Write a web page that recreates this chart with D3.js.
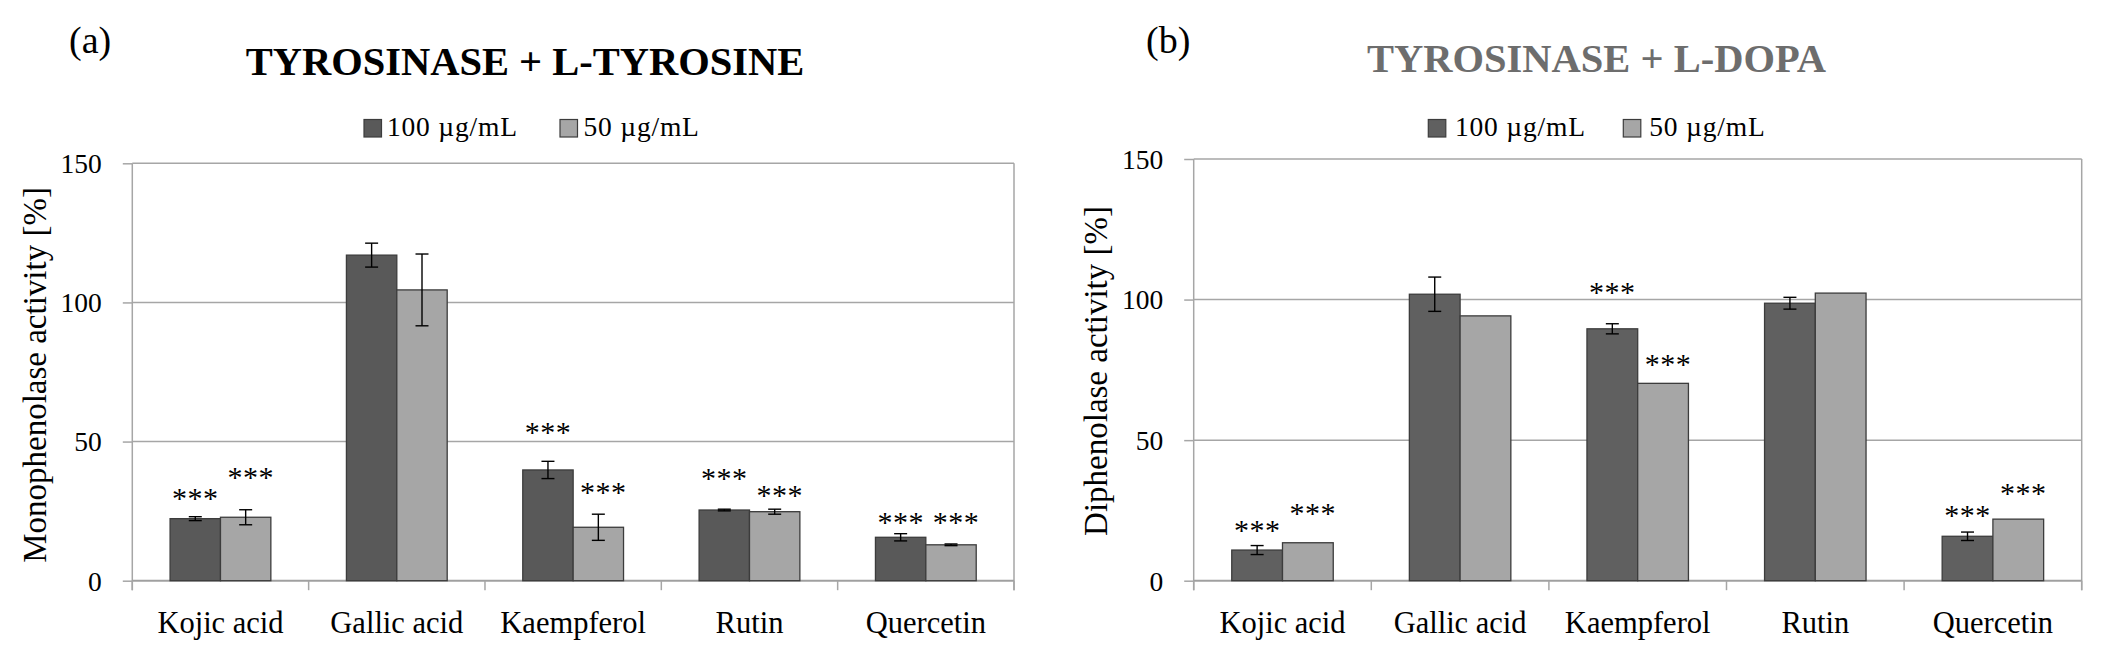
<!DOCTYPE html>
<html>
<head>
<meta charset="utf-8">
<script src="https://cdn.jsdelivr.net/npm/d3@7"></script>
<style>
  html, body { margin: 0; padding: 0; background: #ffffff; }
  svg { display: block; }
  text { font-family: "Liberation Serif", "Times New Roman", serif; fill: #000; }
</style>
</head>
<body>
<svg id="chart" width="2108" height="664"></svg>
<script>
// ---------------- DATA ----------------
const categories = ["Kojic acid", "Gallic acid", "Kaempferol", "Rutin", "Quercetin"];
const seriesNames = ["100 µg/mL", "50 µg/mL"];
const yTicks = [0, 50, 100, 150];

// Panel (a): TYROSINASE + L-TYROSINE (monophenolase activity, %)
const monoHigh      = [22.3, 117.0, 39.8, 25.4, 15.6];
const monoHighErr   = [0.7, 4.3, 3.1, 0.3, 1.3];
const monoLow       = [22.8, 104.5, 19.2, 24.8, 12.9];
const monoLowErr    = [2.7, 12.9, 4.7, 0.9, 0.3];
const monoHighStars = [31.5, null, 55.4, 38.6, 23.0];
const monoLowStars  = [39.2, null, 33.8, 32.6, 23.0];

// Panel (b): TYROSINASE + L-DOPA (diphenolase activity, %)
const diHigh      = [10.9, 101.9, 89.6, 98.7, 15.8];
const diHighErr   = [1.6, 6.1, 1.8, 2.1, 1.5];
const diLow       = [13.5, 94.2, 70.2, 102.3, 21.9];
const diLowErr    = [0, 0, 0, 0, 0];
const diHighStars = [19.8, null, 104.4, null, 25.2];
const diLowStars  = [26.0, null, 78.8, null, 33.1];

const starLabel = "***";

// ---------------- DRAWING ----------------
const svg = d3.select("#chart");

function drawPanel(cfg) {
  const g = svg.append("g");
  const x0 = d3.scaleBand().domain(categories).range([cfg.left, cfg.right]).paddingInner(0).paddingOuter(0);
  const x1 = d3.scaleBand().domain(seriesNames).range([0, x0.bandwidth()]).paddingInner(0).paddingOuter(0.75);
  const y = d3.scaleLinear().domain([0, 150]).range([cfg.bottom, cfg.top]);

  const gridColor = "#a6a6a6";

  // gridlines (50, 100, 150)
  g.append("g").selectAll("line").data(yTicks.filter(t => t > 0)).join("line")
    .attr("x1", cfg.left).attr("x2", cfg.right)
    .attr("y1", d => y(d)).attr("y2", d => y(d))
    .attr("stroke", gridColor).attr("stroke-width", 1.5);

  // right border of plot area (extends to tick length)
  g.append("line")
    .attr("x1", cfg.right).attr("x2", cfg.right)
    .attr("y1", y(150)).attr("y2", y(0) + 9.5)
    .attr("stroke", gridColor).attr("stroke-width", 1.5);

  // y axis
  const yAxis = g.append("g").attr("transform", `translate(${cfg.left},0)`)
    .call(d3.axisLeft(y).tickValues(yTicks).tickSize(9.5).tickPadding(21).tickFormat(d3.format("d")));
  yAxis.select(".domain").attr("stroke", gridColor).attr("stroke-width", 1.5)
    .attr("d", `M0,${y(150)}V${y(0) + 9.5}`);
  yAxis.selectAll(".tick line").attr("stroke", gridColor).attr("stroke-width", 1.5);
  yAxis.selectAll(".tick text").attr("font-size", 27.5).attr("font-family", "Liberation Serif").attr("fill", "#000").attr("dy", "0.34em");

  // x axis (labels at centers, separators at boundaries)
  const xAxis = g.append("g").attr("transform", `translate(0,${y(0)})`)
    .call(d3.axisBottom(x0).tickSize(0).tickPadding(0));
  xAxis.select(".domain").attr("stroke", "#a0a0a0").attr("stroke-width", 2)
    .attr("d", `M${cfg.left},0H${cfg.right}`);
  xAxis.selectAll(".tick text").attr("font-size", 30.5).attr("font-family", "Liberation Serif")
    .attr("fill", "#000").attr("y", 52).attr("dy", null);
  const boundaries = categories.map(c => x0(c)).concat([cfg.right]);
  xAxis.append("g").selectAll("line").data(boundaries).join("line")
    .attr("x1", d => d).attr("x2", d => d).attr("y1", 0).attr("y2", 9.5)
    .attr("stroke", gridColor).attr("stroke-width", 1.5);

  // bars
  const rows = categories.map((c, i) => ({ cat: c, i }));
  const seriesData = [
    { name: seriesNames[0], vals: cfg.high, errs: cfg.highErr, stars: cfg.highStars, fill: cfg.darkFill, starDx: 0 },
    { name: seriesNames[1], vals: cfg.low, errs: cfg.lowErr, stars: cfg.lowStars, fill: cfg.lightFill, starDx: 5 }
  ];

  seriesData.forEach(s => {
    const sg = g.append("g");
    sg.selectAll("rect").data(rows).join("rect")
      .attr("x", d => x0(d.cat) + x1(s.name))
      .attr("y", d => y(s.vals[d.i]))
      .attr("width", x1.bandwidth())
      .attr("height", d => y(0) - y(s.vals[d.i]))
      .attr("fill", s.fill)
      .attr("stroke", "#3c3c3c").attr("stroke-width", 1.3);

    // error bars
    const eb = sg.append("g").selectAll("g").data(rows.filter(d => s.errs[d.i] > 0)).join("g");
    const cx = d => x0(d.cat) + x1(s.name) + x1.bandwidth() / 2;
    const cap = 6.5;
    eb.append("line").attr("x1", cx).attr("x2", cx)
      .attr("y1", d => y(s.vals[d.i] + s.errs[d.i])).attr("y2", d => y(s.vals[d.i] - s.errs[d.i]))
      .attr("stroke", "#000").attr("stroke-width", 1.4);
    eb.append("line").attr("x1", d => cx(d) - cap).attr("x2", d => cx(d) + cap)
      .attr("y1", d => y(s.vals[d.i] + s.errs[d.i])).attr("y2", d => y(s.vals[d.i] + s.errs[d.i]))
      .attr("stroke", "#000").attr("stroke-width", 1.4);
    eb.append("line").attr("x1", d => cx(d) - cap).attr("x2", d => cx(d) + cap)
      .attr("y1", d => y(s.vals[d.i] - s.errs[d.i])).attr("y2", d => y(s.vals[d.i] - s.errs[d.i]))
      .attr("stroke", "#000").attr("stroke-width", 1.4);

    // significance stars
    sg.append("g").selectAll("text").data(rows.filter(d => s.stars[d.i] != null)).join("text")
      .attr("x", d => cx(d) + s.starDx)
      .attr("y", d => y(s.stars[d.i]) + 15)
      .attr("text-anchor", "middle")
      .attr("font-size", 30)
      .attr("letter-spacing", 0.5)
      .text(starLabel);
  });

  // y-axis title
  g.append("text")
    .attr("transform", `translate(${cfg.yLabelX},${cfg.yLabelY}) rotate(-90)`)
    .attr("text-anchor", "middle")
    .attr("font-size", 33)
    .text(cfg.yLabel);

  // chart title
  g.append("text")
    .attr("x", cfg.titleX).attr("y", cfg.titleY)
    .attr("text-anchor", "middle")
    .attr("font-size", cfg.titleSize).attr("font-weight", "bold")
    .style("fill", cfg.titleColor)
    .text(cfg.title);

  // panel letter
  g.append("text")
    .attr("x", cfg.letterX).attr("y", 53)
    .attr("font-size", 38)
    .text(cfg.letter);

  // legend
  const lg = g.append("g");
  seriesData.forEach((s, k) => {
    lg.append("rect")
      .attr("x", cfg.legendSquares[k]).attr("y", 119.5)
      .attr("width", 17.5).attr("height", 17.5)
      .attr("fill", s.fill).attr("stroke", "#3c3c3c").attr("stroke-width", 1.2);
    lg.append("text")
      .attr("x", cfg.legendTexts[k]).attr("y", 136)
      .attr("font-size", 27.5)
      .attr("letter-spacing", 0.8)
      .text(s.name);
  });
}

drawPanel({
  left: 132.3, right: 1014, top: 163.3, bottom: 580.7,
  high: monoHigh, highErr: monoHighErr, highStars: monoHighStars,
  low: monoLow, lowErr: monoLowErr, lowStars: monoLowStars,
  darkFill: "#595959", lightFill: "#a6a6a6",
  yLabel: "Monophenolase activity [%]", yLabelX: 46, yLabelY: 375,
  title: "TYROSINASE + L-TYROSINE", titleX: 525, titleY: 75, titleSize: 40.5, titleColor: "#000000",
  letter: "(a)", letterX: 69,
  legendSquares: [364, 560], legendTexts: [387, 583.5]
});

drawPanel({
  left: 1193.7, right: 2081.7, top: 159, bottom: 580.7,
  high: diHigh, highErr: diHighErr, highStars: diHighStars,
  low: diLow, lowErr: diLowErr, lowStars: diLowStars,
  darkFill: "#606060", lightFill: "#a6a6a6",
  yLabel: "Diphenolase activity [%]", yLabelX: 1107, yLabelY: 371,
  title: "TYROSINASE + L-DOPA", titleX: 1596.5, titleY: 72, titleSize: 40.5, titleColor: "#6d6d6d",
  letter: "(b)", letterX: 1146,
  legendSquares: [1428.3, 1623.3], legendTexts: [1455, 1649.3]
});
</script>
</body>
</html>
